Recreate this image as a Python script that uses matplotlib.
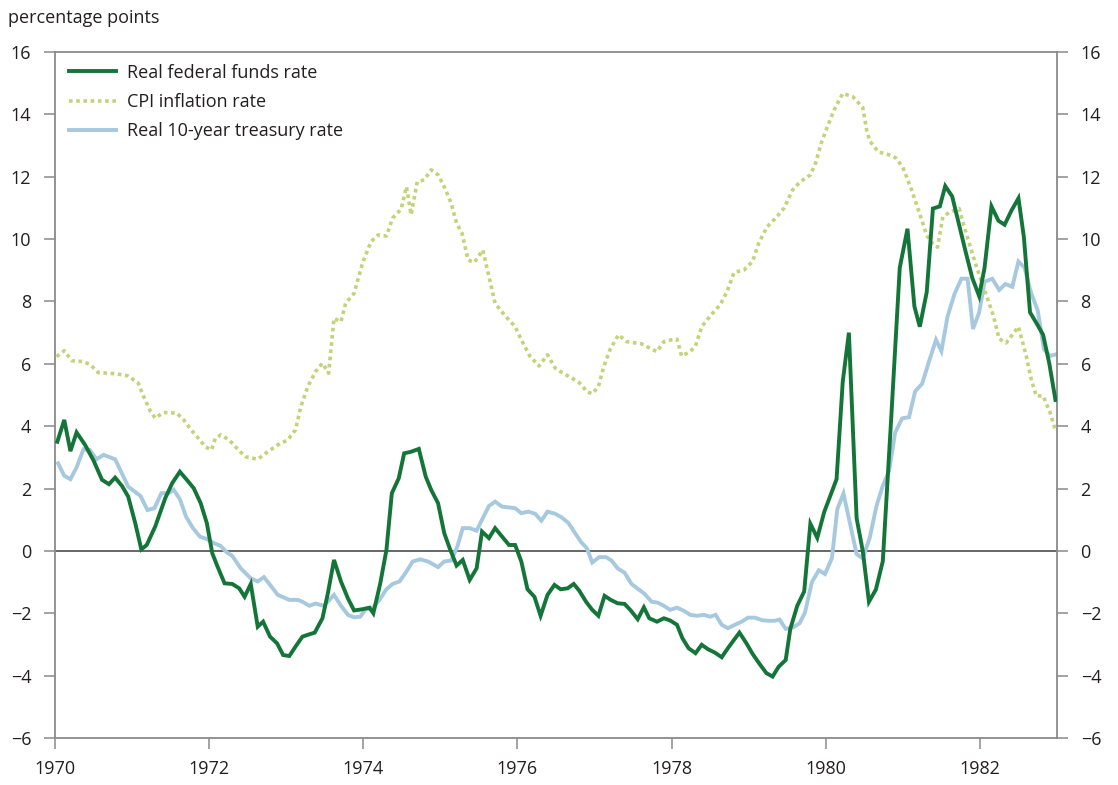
import matplotlib
matplotlib.use("Agg")
import matplotlib.pyplot as plt

# ---- data ----
ffr_years = [1970.03, 1970.12, 1970.20, 1970.28, 1970.39, 1970.50, 1970.61, 1970.70, 1970.78, 1970.87,
             1970.95, 1971.04, 1971.12, 1971.19, 1971.30, 1971.43, 1971.52, 1971.62, 1971.71, 1971.80,
             1971.89, 1971.97, 1972.04, 1972.10, 1972.20, 1972.30, 1972.39, 1972.46, 1972.54, 1972.63,
             1972.70, 1972.79, 1972.88, 1972.96, 1973.04, 1973.12, 1973.21, 1973.28, 1973.37, 1973.47,
             1973.54, 1973.62, 1973.71, 1973.80, 1973.88, 1973.99, 1974.08, 1974.13, 1974.22, 1974.30,
             1974.37, 1974.46, 1974.53, 1974.62, 1974.72, 1974.81, 1974.88, 1974.97, 1975.05, 1975.12,
             1975.21, 1975.29, 1975.38, 1975.47, 1975.54, 1975.63, 1975.71, 1975.80, 1975.89, 1975.97,
             1976.05, 1976.13, 1976.22, 1976.30, 1976.39, 1976.48, 1976.56, 1976.65, 1976.73, 1976.80,
             1976.89, 1976.97, 1977.05, 1977.13, 1977.21, 1977.30, 1977.39, 1977.47, 1977.56, 1977.64,
             1977.71, 1977.81, 1977.90, 1977.98, 1978.07, 1978.14, 1978.22, 1978.31, 1978.39, 1978.47,
             1978.56, 1978.65, 1978.73, 1978.81, 1978.88, 1978.97, 1979.05, 1979.14, 1979.23, 1979.31,
             1979.39, 1979.48, 1979.54, 1979.63, 1979.72, 1979.80, 1979.89, 1979.98, 1980.07, 1980.14,
             1980.22, 1980.30, 1980.40, 1980.48, 1980.56, 1980.65, 1980.74, 1980.85, 1980.96, 1981.06,
             1981.15, 1981.22, 1981.31, 1981.39, 1981.48, 1981.55, 1981.64, 1981.73, 1981.82, 1981.90,
             1981.99, 1982.06, 1982.15, 1982.24, 1982.32, 1982.41, 1982.50, 1982.57, 1982.65, 1982.73,
             1982.82, 1982.90, 1982.98]
ffr_values = [3.50, 4.20, 3.20, 3.80, 3.40, 2.90, 2.28, 2.14, 2.35, 2.08,
              1.74, 0.90, 0.05, 0.19, 0.78, 1.69, 2.17, 2.54, 2.28, 2.01,
              1.53, 0.89, -0.07, -0.45, -1.04, -1.06, -1.20, -1.47, -1.06, -2.43,
              -2.27, -2.75, -2.96, -3.34, -3.37, -3.07, -2.75, -2.69, -2.62, -2.16,
              -1.36, -0.29, -0.98, -1.52, -1.91, -1.87, -1.82, -2.00, -1.04, 0.03,
              1.85, 2.33, 3.13, 3.18, 3.27, 2.38, 1.96, 1.53, 0.57, 0.09,
              -0.47, -0.29, -0.93, -0.56, 0.62, 0.41, 0.73, 0.46, 0.19, 0.19,
              -0.34, -1.23, -1.47, -2.08, -1.41, -1.09, -1.23, -1.20, -1.06, -1.27,
              -1.63, -1.89, -2.08, -1.44, -1.57, -1.68, -1.70, -1.91, -2.19, -1.81,
              -2.16, -2.27, -2.16, -2.23, -2.37, -2.80, -3.12, -3.28, -3.01, -3.15,
              -3.26, -3.41, -3.12, -2.85, -2.62, -2.96, -3.30, -3.62, -3.92, -4.03,
              -3.71, -3.50, -2.50, -1.76, -1.30, 0.87, 0.42, 1.25, 1.84, 2.30,
              5.42, 7.00, 1.05, 0.00, -1.63, -1.24, -0.33, 4.30, 9.08, 10.33,
              7.84, 7.19, 8.30, 10.98, 11.05, 11.70, 11.37, 10.46, 9.54, 8.76,
              8.17, 9.08, 11.05, 10.59, 10.46, 10.92, 11.31, 10.07, 7.65, 7.32,
              6.93, 6.01, 4.84]

cpi_years = [1970.02, 1970.12, 1970.22, 1970.37, 1970.46, 1970.56, 1970.80, 1970.95, 1971.08, 1971.15,
             1971.24, 1971.30, 1971.41, 1971.58, 1971.67, 1971.76, 1971.84, 1971.95, 1972.03, 1972.08,
             1972.15, 1972.26, 1972.36, 1972.47, 1972.63, 1972.76, 1972.89, 1973.02, 1973.12, 1973.19,
             1973.28, 1973.38, 1973.47, 1973.55, 1973.62, 1973.71, 1973.77, 1973.88, 1973.99, 1974.10,
             1974.19, 1974.30, 1974.38, 1974.49, 1974.56, 1974.62, 1974.70, 1974.79, 1974.88, 1974.97,
             1975.05, 1975.14, 1975.21, 1975.28, 1975.36, 1975.44, 1975.55, 1975.62, 1975.71, 1975.83,
             1975.97, 1976.05, 1976.16, 1976.28, 1976.39, 1976.49, 1976.59, 1976.70, 1976.81, 1976.90,
             1976.97, 1977.05, 1977.12, 1977.20, 1977.31, 1977.42, 1977.61, 1977.72, 1977.81, 1977.90,
             1978.00, 1978.07, 1978.13, 1978.24, 1978.31, 1978.39, 1978.53, 1978.63, 1978.72, 1978.81,
             1978.94, 1979.05, 1979.13, 1979.24, 1979.35, 1979.46, 1979.57, 1979.67, 1979.80, 1979.87,
             1979.94, 1980.02, 1980.11, 1980.22, 1980.35, 1980.48, 1980.53, 1980.57, 1980.68, 1980.82,
             1980.91, 1981.00, 1981.11, 1981.22, 1981.30, 1981.35, 1981.45, 1981.52, 1981.60, 1981.73,
             1981.82, 1981.95, 1982.06, 1982.17, 1982.25, 1982.34, 1982.50, 1982.60, 1982.66, 1982.73,
             1982.82, 1982.91, 1982.98]
cpi_values = [6.23, 6.42, 6.10, 6.07, 5.97, 5.72, 5.68, 5.61, 5.38, 4.95,
              4.47, 4.26, 4.44, 4.42, 4.20, 3.90, 3.67, 3.34, 3.24, 3.61,
              3.72, 3.56, 3.29, 3.02, 2.94, 3.18, 3.40, 3.56, 3.88, 4.63,
              5.27, 5.75, 6.02, 5.70, 7.46, 7.35, 7.94, 8.26, 9.23, 9.92,
              10.13, 10.10, 10.67, 10.96, 11.68, 10.78, 11.84, 11.90, 12.22, 12.06,
              11.68, 11.15, 10.51, 10.19, 9.33, 9.25, 9.65, 8.91, 7.94, 7.57,
              7.19, 6.77, 6.25, 5.93, 6.29, 5.86, 5.70, 5.55, 5.38, 5.11,
              5.04, 5.27, 5.91, 6.45, 6.93, 6.71, 6.64, 6.50, 6.39, 6.71,
              6.77, 6.79, 6.25, 6.39, 6.57, 7.19, 7.62, 7.89, 8.32, 8.93,
              9.01, 9.28, 9.87, 10.40, 10.67, 11.00, 11.58, 11.84, 12.06, 12.45,
              13.07, 13.60, 14.15, 14.67, 14.57, 14.22, 13.50, 13.15, 12.80, 12.70,
              12.60, 12.30, 11.60, 10.80, 10.20, 9.93, 9.74, 10.72, 10.85, 10.98,
              10.20, 9.15, 8.37, 7.58, 6.80, 6.67, 7.19, 6.27, 5.56, 4.97,
              4.97, 4.44, 3.86]

tsy_years = [1970.04, 1970.12, 1970.20, 1970.28, 1970.37, 1970.45, 1970.54, 1970.63, 1970.78, 1970.87,
             1970.95, 1971.11, 1971.20, 1971.29, 1971.38, 1971.47, 1971.54, 1971.62, 1971.70, 1971.79,
             1971.88, 1971.97, 1972.06, 1972.15, 1972.23, 1972.30, 1972.41, 1972.54, 1972.63, 1972.71,
             1972.80, 1972.89, 1973.04, 1973.15, 1973.21, 1973.30, 1973.38, 1973.49, 1973.62, 1973.71,
             1973.80, 1973.88, 1973.96, 1974.03, 1974.12, 1974.21, 1974.30, 1974.38, 1974.47, 1974.56,
             1974.64, 1974.74, 1974.84, 1974.97, 1975.05, 1975.14, 1975.22, 1975.29, 1975.38, 1975.47,
             1975.55, 1975.63, 1975.71, 1975.80, 1975.97, 1976.05, 1976.14, 1976.23, 1976.31, 1976.39,
             1976.49, 1976.57, 1976.66, 1976.75, 1976.83, 1976.90, 1976.97, 1977.06, 1977.15, 1977.22,
             1977.30, 1977.39, 1977.48, 1977.57, 1977.65, 1977.74, 1977.82, 1977.90, 1977.98, 1978.07,
             1978.16, 1978.24, 1978.33, 1978.42, 1978.50, 1978.57, 1978.65, 1978.73, 1978.82, 1978.91,
             1978.99, 1979.08, 1979.17, 1979.25, 1979.34, 1979.40, 1979.48, 1979.57, 1979.66, 1979.73,
             1979.82, 1979.91, 1979.99, 1980.08, 1980.15, 1980.23, 1980.31, 1980.40, 1980.48, 1980.57,
             1980.66, 1980.74, 1980.82, 1980.90, 1980.99, 1981.08, 1981.16, 1981.25, 1981.34, 1981.43,
             1981.50, 1981.58, 1981.67, 1981.76, 1981.84, 1981.91, 1981.99, 1982.06, 1982.16, 1982.25,
             1982.33, 1982.42, 1982.50, 1982.58, 1982.66, 1982.75, 1982.83, 1982.91, 1982.98]
tsy_values = [2.81, 2.41, 2.30, 2.68, 3.26, 3.24, 2.94, 3.08, 2.94, 2.47,
              2.06, 1.76, 1.31, 1.37, 1.85, 1.85, 1.96, 1.66, 1.10, 0.73,
              0.46, 0.38, 0.25, 0.16, -0.05, -0.16, -0.56, -0.88, -0.98, -0.84,
              -1.12, -1.41, -1.57, -1.57, -1.63, -1.76, -1.69, -1.76, -1.41, -1.76,
              -2.05, -2.13, -2.11, -1.87, -1.84, -1.57, -1.23, -1.06, -0.98, -0.66,
              -0.34, -0.27, -0.34, -0.52, -0.34, -0.31, 0.14, 0.73, 0.73, 0.65,
              1.05, 1.44, 1.58, 1.42, 1.37, 1.21, 1.26, 1.19, 0.97, 1.26,
              1.19, 1.08, 0.90, 0.56, 0.27, 0.09, -0.37, -0.20, -0.20, -0.31,
              -0.56, -0.70, -1.06, -1.23, -1.38, -1.63, -1.66, -1.76, -1.89, -1.82,
              -1.92, -2.05, -2.08, -2.05, -2.11, -2.05, -2.37, -2.48, -2.37, -2.27,
              -2.14, -2.14, -2.22, -2.24, -2.24, -2.20, -2.50, -2.46, -2.32, -1.98,
              -1.00, -0.62, -0.74, -0.23, 1.34, 1.84, 0.92, -0.10, -0.24, 0.42,
              1.46, 2.09, 2.55, 3.79, 4.25, 4.29, 5.12, 5.36, 6.08, 6.77,
              6.41, 7.52, 8.24, 8.73, 8.73, 7.12, 7.65, 8.63, 8.73, 8.37,
              8.56, 8.47, 9.28, 9.08, 8.30, 7.71, 6.47, 6.25, 6.30]

series_labels = ["Real federal funds rate", "CPI inflation rate", "Real 10-year treasury rate"]
x_ticks = [1970, 1972, 1974, 1976, 1978, 1980, 1982]
y_ticks = [-6, -4, -2, 0, 2, 4, 6, 8, 10, 12, 14, 16]
y_label = "percentage points"

# ---- styling ----
plt.rcParams['font.family'] = ['Open Sans', 'DejaVu Sans']
GREEN = "#137538"
OLIVE = "#c4d279"
BLUE = "#a6c9df"
AXIS_GREY = "#8a8a8a"
TEXT = "#231f20"

fig = plt.figure(figsize=(11.18, 7.85), dpi=100)
ax = fig.add_axes([55 / 1118, 1 - 738 / 785, (1057 - 55) / 1118, (738 - 52) / 785])

ax.axhline(0, color="#4d4d4d", lw=1.2, zorder=1)

ax.plot(tsy_years, tsy_values, color=BLUE, lw=2.8, label=series_labels[2], zorder=2,
        solid_joinstyle='miter')
ax.plot(cpi_years, cpi_values, color=OLIVE, lw=2.6, linestyle=(0, (1.0, 1.0)),
        label=series_labels[1], zorder=3, dash_capstyle='butt')
ax.plot(ffr_years, ffr_values, color=GREEN, lw=2.8, label=series_labels[0], zorder=4,
        solid_joinstyle='miter')

ax.set_xlim(1970, 1983)
ax.set_ylim(-6, 16)
ax.set_xticks(x_ticks)
ax.set_yticks(y_ticks)
ax.set_yticklabels([str(v).replace('-', '\u2212') for v in y_ticks])
ax.set_xticklabels([str(v) for v in x_ticks])

for s in ax.spines.values():
    s.set_color(AXIS_GREY)
    s.set_linewidth(1.3)

ax.tick_params(axis='y', which='both', direction='out', length=8, width=1.1,
               color=AXIS_GREY, labelcolor=TEXT, labelsize=13, pad=9,
               left=True, right=True, labelleft=True, labelright=True)
ax.tick_params(axis='x', direction='out', length=8, width=1.1, color=AXIS_GREY,
               labelcolor=TEXT, labelsize=13, pad=8)

fig.text(8 / 1118, 1 - 18 / 785, y_label, fontsize=13, color=TEXT, ha='left', va='center')

handles, labels = ax.get_legend_handles_labels()
order = [2, 1, 0]
leg = ax.legend([handles[i] for i in order], [labels[i] for i in order],
                loc='upper left', bbox_to_anchor=(0.002, 1.0), frameon=False,
                fontsize=13, handlelength=2.6, handletextpad=0.65, labelspacing=0.62,
                borderaxespad=0.25)
for t in leg.get_texts():
    t.set_color(TEXT)

fig.savefig("out.png", dpi=100)
